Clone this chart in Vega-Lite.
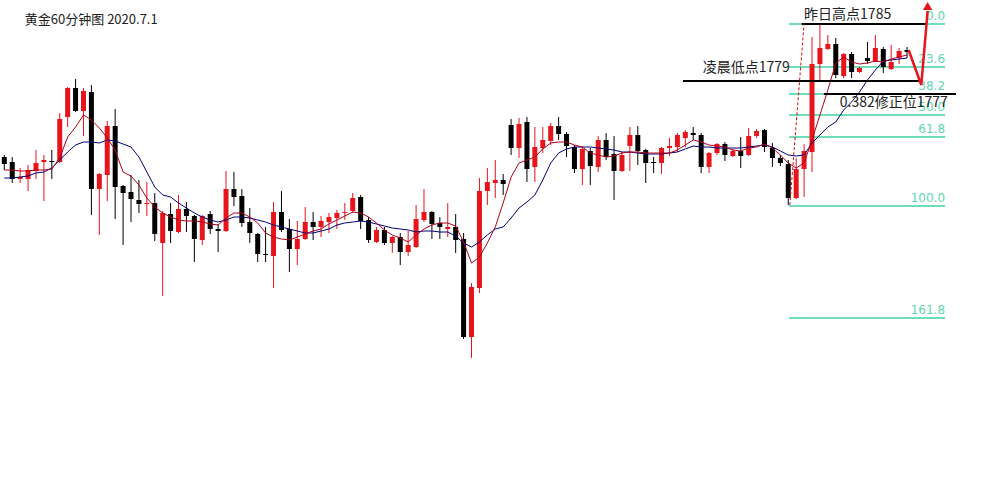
{
  "$schema": "https://vega.github.io/schema/vega-lite/v6.json",
  "width": 984,
  "height": 483,
  "autosize": {"type": "fit", "contains": "padding"},
  "padding": 0,
  "background": "white",
  "config": {"view": {"stroke": null}},
  "datasets": {
    "candles": [
      {"i":0,"o":1771.6,"h":1771.8,"l":1770.3,"c":1770.9,"m1":1770.3,"m2":1769.5},
      {"i":1,"o":1771.1,"h":1771.6,"l":1769.0,"c":1769.4,"m1":1770.3,"m2":1769.5},
      {"i":2,"o":1769.4,"h":1770.5,"l":1769.0,"c":1769.6,"m1":1770.2,"m2":1769.6},
      {"i":3,"o":1769.4,"h":1770.8,"l":1768.2,"c":1770.3,"m1":1770.2,"m2":1769.7},
      {"i":4,"o":1770.2,"h":1772.3,"l":1769.4,"c":1771.0,"m1":1770.3,"m2":1770.0},
      {"i":5,"o":1771.1,"h":1771.8,"l":1767.2,"c":1771.3,"m1":1770.3,"m2":1770.1},
      {"i":6,"o":1771.2,"h":1772.3,"l":1769.4,"c":1771.1,"m1":1770.4,"m2":1770.5},
      {"i":7,"o":1771.1,"h":1776.0,"l":1771.0,"c":1775.4,"m1":1771.5,"m2":1771.3},
      {"i":8,"o":1775.6,"h":1778.6,"l":1774.6,"c":1778.5,"m1":1773.6,"m2":1772.1},
      {"i":9,"o":1778.5,"h":1779.4,"l":1776.1,"c":1776.2,"m1":1774.6,"m2":1772.8},
      {"i":10,"o":1776.2,"h":1778.5,"l":1773.7,"c":1778.2,"m1":1775.8,"m2":1773.1},
      {"i":11,"o":1778.1,"h":1778.8,"l":1765.8,"c":1768.4,"m1":1775.3,"m2":1773.1},
      {"i":12,"o":1768.4,"h":1770.0,"l":1763.8,"c":1769.9,"m1":1774.5,"m2":1773.0},
      {"i":13,"o":1769.8,"h":1775.2,"l":1767.2,"c":1774.7,"m1":1773.5,"m2":1773.3},
      {"i":14,"o":1774.7,"h":1776.4,"l":1765.4,"c":1768.6,"m1":1772.3,"m2":1773.2},
      {"i":15,"o":1768.7,"h":1768.8,"l":1762.8,"c":1768.0,"m1":1770.1,"m2":1772.9},
      {"i":16,"o":1768.1,"h":1769.8,"l":1765.1,"c":1767.4,"m1":1769.7,"m2":1772.6},
      {"i":17,"o":1767.3,"h":1769.3,"l":1766.0,"c":1766.9,"m1":1768.8,"m2":1771.6},
      {"i":18,"o":1766.9,"h":1769.1,"l":1765.7,"c":1767.0,"m1":1767.5,"m2":1770.1},
      {"i":19,"o":1767.0,"h":1768.0,"l":1763.2,"c":1763.9,"m1":1766.6,"m2":1768.6},
      {"i":20,"o":1763.0,"h":1766.2,"l":1757.7,"c":1766.0,"m1":1766.0,"m2":1767.8},
      {"i":21,"o":1765.9,"h":1767.0,"l":1763.0,"c":1764.2,"m1":1765.6,"m2":1767.6},
      {"i":22,"o":1764.1,"h":1767.8,"l":1764.0,"c":1766.4,"m1":1765.3,"m2":1767.0},
      {"i":23,"o":1766.4,"h":1767.1,"l":1764.1,"c":1765.7,"m1":1765.2,"m2":1766.5},
      {"i":24,"o":1765.7,"h":1765.8,"l":1761.1,"c":1763.4,"m1":1765.2,"m2":1766.0},
      {"i":25,"o":1763.3,"h":1765.8,"l":1762.8,"c":1765.7,"m1":1765.1,"m2":1765.6},
      {"i":26,"o":1765.9,"h":1766.2,"l":1763.9,"c":1764.4,"m1":1764.9,"m2":1765.3},
      {"i":27,"o":1764.4,"h":1764.9,"l":1762.1,"c":1764.2,"m1":1764.8,"m2":1765.1},
      {"i":28,"o":1764.2,"h":1770.2,"l":1764.1,"c":1768.4,"m1":1765.5,"m2":1765.3},
      {"i":29,"o":1768.4,"h":1770.1,"l":1766.7,"c":1767.6,"m1":1766.0,"m2":1765.6},
      {"i":30,"o":1767.7,"h":1768.4,"l":1764.6,"c":1765.0,"m1":1766.0,"m2":1765.6},
      {"i":31,"o":1765.1,"h":1766.5,"l":1763.0,"c":1764.0,"m1":1765.6,"m2":1765.5},
      {"i":32,"o":1763.9,"h":1764.0,"l":1761.1,"c":1761.9,"m1":1765.0,"m2":1765.3},
      {"i":33,"o":1761.9,"h":1764.6,"l":1761.1,"c":1761.8,"m1":1764.0,"m2":1765.1},
      {"i":34,"o":1761.7,"h":1767.1,"l":1758.5,"c":1766.1,"m1":1763.6,"m2":1764.8},
      {"i":35,"o":1766.1,"h":1768.2,"l":1764.1,"c":1764.3,"m1":1763.4,"m2":1764.6},
      {"i":36,"o":1764.4,"h":1765.4,"l":1760.1,"c":1762.4,"m1":1763.3,"m2":1764.4},
      {"i":37,"o":1762.4,"h":1765.2,"l":1760.8,"c":1763.4,"m1":1763.6,"m2":1764.2},
      {"i":38,"o":1763.4,"h":1766.6,"l":1763.3,"c":1765.1,"m1":1763.9,"m2":1764.0},
      {"i":39,"o":1765.1,"h":1766.1,"l":1763.3,"c":1764.6,"m1":1764.2,"m2":1764.0},
      {"i":40,"o":1764.6,"h":1765.7,"l":1763.6,"c":1765.2,"m1":1764.4,"m2":1764.2},
      {"i":41,"o":1765.1,"h":1766.0,"l":1764.0,"c":1765.6,"m1":1764.9,"m2":1764.4},
      {"i":42,"o":1765.5,"h":1766.3,"l":1764.4,"c":1766.0,"m1":1765.3,"m2":1764.8},
      {"i":43,"o":1766.0,"h":1767.0,"l":1765.3,"c":1766.1,"m1":1765.7,"m2":1765.0},
      {"i":44,"o":1766.2,"h":1768.0,"l":1766.0,"c":1767.5,"m1":1766.1,"m2":1765.1},
      {"i":45,"o":1767.6,"h":1767.8,"l":1764.4,"c":1765.2,"m1":1766.0,"m2":1765.2},
      {"i":46,"o":1765.3,"h":1765.6,"l":1763.0,"c":1763.3,"m1":1765.6,"m2":1765.1},
      {"i":47,"o":1763.1,"h":1764.6,"l":1763.0,"c":1764.3,"m1":1765.0,"m2":1764.9},
      {"i":48,"o":1764.3,"h":1764.6,"l":1762.8,"c":1763.0,"m1":1764.3,"m2":1764.7},
      {"i":49,"o":1763.0,"h":1763.7,"l":1762.0,"c":1763.6,"m1":1763.8,"m2":1764.5},
      {"i":50,"o":1763.6,"h":1764.0,"l":1760.8,"c":1762.1,"m1":1763.5,"m2":1764.4},
      {"i":51,"o":1762.1,"h":1764.2,"l":1761.7,"c":1762.8,"m1":1763.1,"m2":1764.3},
      {"i":52,"o":1762.6,"h":1766.8,"l":1762.5,"c":1765.4,"m1":1763.8,"m2":1764.1},
      {"i":53,"o":1765.3,"h":1768.4,"l":1765.1,"c":1766.1,"m1":1764.4,"m2":1764.2},
      {"i":54,"o":1766.1,"h":1766.2,"l":1763.4,"c":1764.9,"m1":1764.8,"m2":1764.2},
      {"i":55,"o":1765.0,"h":1765.6,"l":1763.4,"c":1764.6,"m1":1765.0,"m2":1764.1},
      {"i":56,"o":1764.4,"h":1767.0,"l":1763.6,"c":1764.6,"m1":1765.0,"m2":1764.1},
      {"i":57,"o":1764.6,"h":1765.9,"l":1762.0,"c":1763.3,"m1":1764.7,"m2":1763.7},
      {"i":58,"o":1763.4,"h":1764.0,"l":1753.4,"c":1753.6,"m1":1763.1,"m2":1763.0},
      {"i":59,"o":1753.6,"h":1759.0,"l":1751.5,"c":1758.6,"m1":1761.0,"m2":1762.6},
      {"i":60,"o":1758.5,"h":1769.5,"l":1758.0,"c":1768.2,"m1":1761.6,"m2":1763.1},
      {"i":61,"o":1768.2,"h":1770.5,"l":1766.8,"c":1769.1,"m1":1763.0,"m2":1763.8},
      {"i":62,"o":1769.0,"h":1771.3,"l":1767.5,"c":1769.3,"m1":1764.6,"m2":1764.4},
      {"i":63,"o":1769.3,"h":1769.9,"l":1767.8,"c":1768.9,"m1":1767.0,"m2":1764.6},
      {"i":64,"o":1774.8,"h":1775.4,"l":1771.8,"c":1772.5,"m1":1769.6,"m2":1765.5},
      {"i":65,"o":1772.5,"h":1775.5,"l":1771.5,"c":1774.9,"m1":1771.0,"m2":1766.5},
      {"i":66,"o":1775.1,"h":1775.6,"l":1769.1,"c":1770.4,"m1":1771.3,"m2":1767.1},
      {"i":67,"o":1770.6,"h":1774.6,"l":1769.1,"c":1772.6,"m1":1771.6,"m2":1767.8},
      {"i":68,"o":1772.5,"h":1774.6,"l":1772.0,"c":1773.3,"m1":1772.4,"m2":1769.3},
      {"i":69,"o":1773.2,"h":1775.0,"l":1772.8,"c":1774.7,"m1":1773.0,"m2":1771.0},
      {"i":70,"o":1774.7,"h":1775.6,"l":1773.3,"c":1773.9,"m1":1773.1,"m2":1772.0},
      {"i":71,"o":1773.9,"h":1774.1,"l":1771.6,"c":1772.7,"m1":1773.1,"m2":1772.4},
      {"i":72,"o":1772.6,"h":1772.8,"l":1770.0,"c":1770.4,"m1":1772.8,"m2":1772.6},
      {"i":73,"o":1770.4,"h":1772.6,"l":1768.8,"c":1772.4,"m1":1772.6,"m2":1772.6},
      {"i":74,"o":1772.2,"h":1772.5,"l":1768.8,"c":1770.7,"m1":1772.0,"m2":1772.6},
      {"i":75,"o":1770.6,"h":1773.7,"l":1770.1,"c":1773.3,"m1":1771.8,"m2":1772.5},
      {"i":76,"o":1773.3,"h":1774.0,"l":1771.3,"c":1771.6,"m1":1771.6,"m2":1772.4},
      {"i":77,"o":1771.9,"h":1773.7,"l":1767.3,"c":1770.2,"m1":1771.7,"m2":1772.3},
      {"i":78,"o":1770.2,"h":1772.1,"l":1770.1,"c":1771.8,"m1":1772.0,"m2":1772.1},
      {"i":79,"o":1772.7,"h":1774.6,"l":1770.2,"c":1773.8,"m1":1772.1,"m2":1772.1},
      {"i":80,"o":1773.8,"h":1774.7,"l":1770.8,"c":1772.2,"m1":1772.1,"m2":1772.0},
      {"i":81,"o":1772.3,"h":1772.4,"l":1769.0,"c":1771.0,"m1":1772.0,"m2":1771.9},
      {"i":82,"o":1771.1,"h":1771.6,"l":1770.0,"c":1771.0,"m1":1772.0,"m2":1771.9},
      {"i":83,"o":1771.0,"h":1772.6,"l":1769.9,"c":1772.5,"m1":1772.0,"m2":1771.9},
      {"i":84,"o":1772.5,"h":1773.5,"l":1771.7,"c":1772.7,"m1":1772.0,"m2":1772.0},
      {"i":85,"o":1772.6,"h":1774.0,"l":1772.1,"c":1773.8,"m1":1772.3,"m2":1772.1},
      {"i":86,"o":1773.5,"h":1774.3,"l":1772.6,"c":1774.1,"m1":1772.8,"m2":1772.4},
      {"i":87,"o":1774.0,"h":1774.6,"l":1773.3,"c":1773.8,"m1":1773.3,"m2":1772.7},
      {"i":88,"o":1773.8,"h":1774.0,"l":1770.0,"c":1770.6,"m1":1773.1,"m2":1772.6},
      {"i":89,"o":1770.6,"h":1772.1,"l":1770.0,"c":1772.0,"m1":1772.8,"m2":1772.6},
      {"i":90,"o":1772.0,"h":1773.0,"l":1771.8,"c":1772.9,"m1":1772.7,"m2":1772.5},
      {"i":91,"o":1772.9,"h":1773.1,"l":1771.2,"c":1771.8,"m1":1772.6,"m2":1772.5},
      {"i":92,"o":1771.7,"h":1772.4,"l":1771.6,"c":1772.2,"m1":1772.3,"m2":1772.5},
      {"i":93,"o":1772.2,"h":1773.6,"l":1770.5,"c":1771.7,"m1":1772.2,"m2":1772.5},
      {"i":94,"o":1771.8,"h":1774.5,"l":1771.7,"c":1773.7,"m1":1772.5,"m2":1772.6},
      {"i":95,"o":1773.7,"h":1774.4,"l":1773.5,"c":1774.2,"m1":1772.6,"m2":1772.7},
      {"i":96,"o":1774.3,"h":1774.4,"l":1772.1,"c":1772.6,"m1":1772.9,"m2":1772.8},
      {"i":97,"o":1772.5,"h":1773.0,"l":1770.6,"c":1771.5,"m1":1772.5,"m2":1772.6},
      {"i":98,"o":1771.5,"h":1771.8,"l":1770.7,"c":1771.0,"m1":1771.8,"m2":1772.2},
      {"i":99,"o":1770.9,"h":1771.3,"l":1766.8,"c":1767.5,"m1":1771.0,"m2":1771.8},
      {"i":100,"o":1767.5,"h":1771.5,"l":1767.4,"c":1770.4,"m1":1770.5,"m2":1771.7},
      {"i":101,"o":1770.4,"h":1772.9,"l":1767.6,"c":1772.2,"m1":1771.0,"m2":1771.8},
      {"i":102,"o":1772.1,"h":1783.6,"l":1770.1,"c":1780.9,"m1":1773.3,"m2":1773.0},
      {"i":103,"o":1780.9,"h":1784.8,"l":1779.3,"c":1782.5,"m1":1775.8,"m2":1773.8},
      {"i":104,"o":1782.4,"h":1783.8,"l":1782.3,"c":1782.9,"m1":1778.3,"m2":1774.6},
      {"i":105,"o":1782.9,"h":1783.5,"l":1779.5,"c":1779.8,"m1":1781.0,"m2":1775.1},
      {"i":106,"o":1779.7,"h":1782.0,"l":1779.5,"c":1781.9,"m1":1781.6,"m2":1776.3},
      {"i":107,"o":1781.9,"h":1782.1,"l":1779.5,"c":1780.1,"m1":1781.1,"m2":1777.1},
      {"i":108,"o":1780.1,"h":1780.6,"l":1780.0,"c":1780.5,"m1":1780.9,"m2":1778.1},
      {"i":109,"o":1781.5,"h":1783.1,"l":1780.9,"c":1781.2,"m1":1781.0,"m2":1779.3},
      {"i":110,"o":1781.1,"h":1783.8,"l":1781.1,"c":1782.5,"m1":1781.2,"m2":1780.3},
      {"i":111,"o":1782.4,"h":1782.6,"l":1780.0,"c":1780.6,"m1":1781.1,"m2":1781.2},
      {"i":112,"o":1780.4,"h":1782.8,"l":1780.3,"c":1781.1,"m1":1781.4,"m2":1781.3},
      {"i":113,"o":1781.5,"h":1782.5,"l":1780.9,"c":1782.2,"m1":1781.6,"m2":1781.4},
      {"i":114,"o":1782.3,"h":1782.6,"l":1781.5,"c":1782.1,"m1":1781.8,"m2":1781.5}
    ],
    "fib": [
      {"lvl":"0.0","p":1784.9},
      {"lvl":"23.6","p":1780.6},
      {"lvl":"38.2","p":1777.9},
      {"lvl":"50.0","p":1775.8},
      {"lvl":"61.8","p":1773.6},
      {"lvl":"100.0","p":1766.7},
      {"lvl":"161.8","p":1755.5}
    ],
    "levels": [
      {"label":"昨日高点1785","p":1784.9,"start":100.7,"end":116.5,"tx":101.0,"tp":1785.8},
      {"label":"凌晨低点1779","p":1779.2,"start":85.7,"end":115.5,"tx":88.2,"tp":1780.5},
      {"label":"0.382修正位1777","p":1777.9,"start":103.5,"end":120.2,"tx":105.5,"tp":1777.0}
    ],
    "dash": [
      {"i":99.2,"p":1766.8},
      {"i":101.0,"p":1785.0}
    ],
    "arrow": [
      {"k":1,"i":114.2,"p":1782.3},
      {"k":2,"i":115.8,"p":1778.8},
      {"k":3,"i":116.6,"p":1786.2}
    ]
  },
  "encoding": {
    "x": {"type":"quantitative","scale":{"domain":[0.0875,123.0875],"nice":false,"zero":false},"axis":null},
    "y": {"type":"quantitative","scale":{"domain":[1739.0,1787.3],"nice":false,"zero":false},"axis":null}
  },
  "layer": [
    {
      "data": {"name":"fib"},
      "mark": {"type":"rule","color":"#3fd2a2","strokeWidth":1.3},
      "encoding": {
        "x": {"datum":99.1,"type":"quantitative"},
        "x2": {"datum":118.8},
        "y": {"field":"p","type":"quantitative"}
      }
    },
    {
      "data": {"name":"fib"},
      "mark": {"type":"text","color":"#5fd6b0","fontSize":12,"font":"DejaVu Sans","align":"right","baseline":"bottom","dy":-1},
      "encoding": {
        "x": {"datum":118.8,"type":"quantitative"},
        "y": {"field":"p","type":"quantitative"},
        "text": {"field":"lvl"}
      }
    },
    {
      "data": {"name":"candles"},
      "mark": {"type":"rule","strokeWidth":1},
      "encoding": {
        "x": {"field":"i","type":"quantitative"},
        "y": {"field":"l","type":"quantitative"},
        "y2": {"field":"h"},
        "color": {"condition":{"test":"datum.c > datum.o","value":"#e8141b"},"value":"#000000"}
      }
    },
    {
      "data": {"name":"candles"},
      "mark": {"type":"bar","size":5},
      "encoding": {
        "x": {"field":"i","type":"quantitative"},
        "y": {"field":"o","type":"quantitative"},
        "y2": {"field":"c"},
        "color": {"condition":{"test":"datum.c > datum.o","value":"#e8141b"},"value":"#000000"}
      }
    },
    {
      "data": {"name":"candles"},
      "mark": {"type":"line","color":"#00007a","strokeWidth":1},
      "encoding": {
        "x": {"field":"i","type":"quantitative"},
        "y": {"field":"m2","type":"quantitative"}
      }
    },
    {
      "data": {"name":"candles"},
      "mark": {"type":"line","color":"#b3001b","strokeWidth":1},
      "encoding": {
        "x": {"field":"i","type":"quantitative"},
        "y": {"field":"m1","type":"quantitative"}
      }
    },
    {
      "data": {"name":"levels"},
      "mark": {"type":"rule","color":"#000000","strokeWidth":2},
      "encoding": {
        "x": {"field":"start","type":"quantitative"},
        "x2": {"field":"end"},
        "y": {"field":"p","type":"quantitative"}
      }
    },
    {
      "data": {"name":"levels"},
      "mark": {"type":"text","color":"#222222","fontSize":14,"font":"Noto Sans CJK SC","align":"left","baseline":"middle"},
      "encoding": {
        "x": {"field":"tx","type":"quantitative"},
        "y": {"field":"tp","type":"quantitative"},
        "text": {"field":"label"}
      }
    },
    {
      "data": {"name":"dash"},
      "mark": {"type":"line","color":"#d01010","strokeWidth":1,"strokeDash":[3,2]},
      "encoding": {
        "x": {"field":"i","type":"quantitative"},
        "y": {"field":"p","type":"quantitative"}
      }
    },
    {
      "data": {"name":"arrow"},
      "mark": {"type":"line","color":"#e8141b","strokeWidth":2.5},
      "encoding": {
        "x": {"field":"i","type":"quantitative"},
        "y": {"field":"p","type":"quantitative"},
        "order": {"field":"k"}
      }
    },
    {
      "data": {"values":[{"i":116.6,"p":1786.7}]},
      "mark": {"type":"point","shape":"triangle-up","filled":true,"color":"#e8141b","size":90,"opacity":1},
      "encoding": {
        "x": {"field":"i","type":"quantitative"},
        "y": {"field":"p","type":"quantitative"}
      }
    },
    {
      "data": {"values":[{"t":"黄金60分钟图  2020.7.1","i":2.59,"p":1785.3}]},
      "mark": {"type":"text","color":"#222222","fontSize":13,"font":"Noto Sans CJK SC","align":"left","baseline":"middle"},
      "encoding": {
        "x": {"field":"i","type":"quantitative"},
        "y": {"field":"p","type":"quantitative"},
        "text": {"field":"t"}
      }
    }
  ]
}
